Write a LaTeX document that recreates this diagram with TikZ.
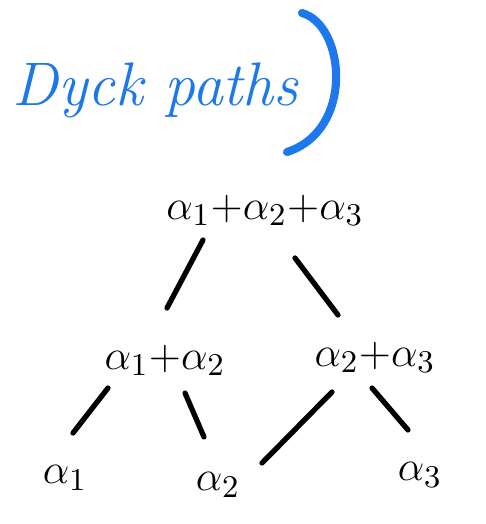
\documentclass[tikz,border=0pt]{standalone}
\usepackage{amsmath}
\usepackage{xcolor}
\usepackage{tikz}
\usetikzlibrary{arrows.meta}
\definecolor{penblue}{RGB}{28,120,235}

\begin{document}
\begin{tikzpicture}[x=0.01cm, y=-0.01cm, line cap=round,
        root/.style={inner sep=0pt, font=\fontsize{13}{15}\selectfont},
        edge/.style={line width=1.5pt}]
        \useasboundingbox (0, 0) rectangle (486, 524);

        % heading and closing bracket
        \node [anchor=base west, inner sep=0pt, text=penblue, font=\fontsize{17.5}{20}\selectfont\itshape] (dyck) at (12, 105) {Dyck paths};
        \draw [penblue, line width=2.3pt] (302, 13) .. controls (345, 25) and (355, 130) .. (287, 152);

        % positive roots of type A_3
        \node [root] (top) at (265, 210) {$\alpha_1{+}\alpha_2{+}\alpha_3$};
        \node [root] (mid12) at (165, 360) {$\alpha_1{+}\alpha_2$};
        \node [root] (mid23) at (375, 357) {$\alpha_2{+}\alpha_3$};
        \node [root] (a1) at (65, 478) {$\alpha_1$};
        \node [root] (a2) at (218, 485) {$\alpha_2$};
        \node [root] (a3) at (420, 475) {$\alpha_3$};

        \draw [edge] ([shift={(-62, 30)}]top.center) -- ([shift={(2, -52)}]mid12.center);
        \draw [edge] ([shift={(30, 48)}]top.center) -- ([shift={(-37, -42)}]mid23.center);
        \draw [edge] ([shift={(-57, 28)}]mid12.center) -- ([shift={(8, -45)}]a1.center);
        \draw [edge] ([shift={(20, 33)}]mid12.center) -- ([shift={(-14, -48)}]a2.center);
        \draw [edge] ([shift={(-43, 35)}]mid23.center) -- ([shift={(44, -22)}]a2.center);
        \draw [edge] ([shift={(-3, 31)}]mid23.center) -- ([shift={(-12, -45)}]a3.center);
    \end{tikzpicture}
\end{document}
